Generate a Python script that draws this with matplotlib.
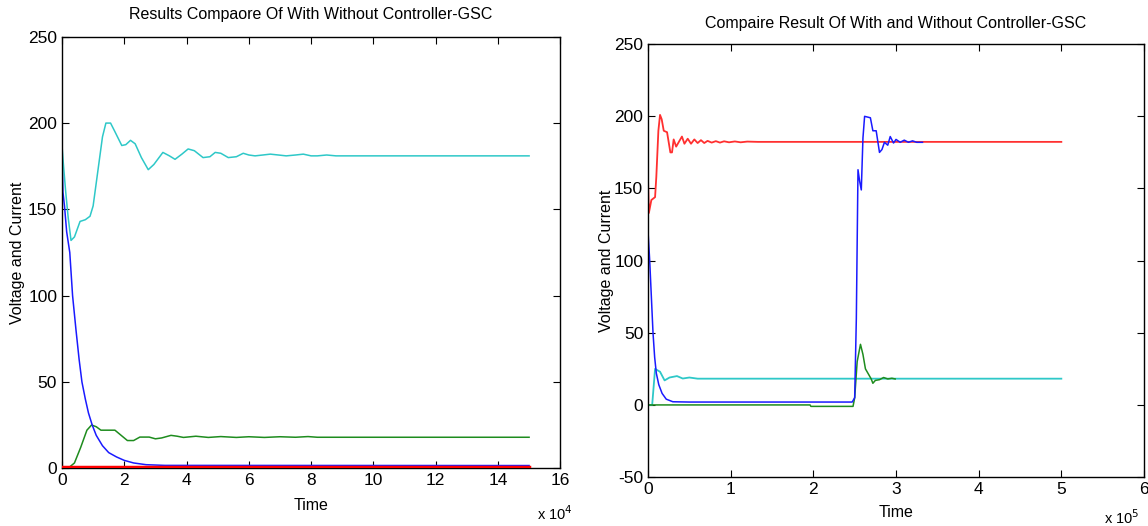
import matplotlib
matplotlib.use("Agg")
from matplotlib import pyplot as plt

plt.rcParams['font.family'] = ['Liberation Sans', 'DejaVu Sans']
plt.rcParams['axes.unicode_minus'] = False

# ---- left chart: without controller (time in units of 1e4) ----
l_cyan_t = [0, 0.05, 0.12, 0.2, 0.29, 0.4, 0.58, 0.75, 0.9, 1.0, 1.15, 1.3, 1.41, 1.56, 1.7, 1.92, 2.05, 2.2, 2.35, 2.55, 2.77, 2.95, 3.24, 3.45, 3.63, 3.85, 4.05, 4.25, 4.53, 4.75, 4.92, 5.1, 5.34, 5.6, 5.82, 6.0, 6.2, 6.45, 6.69, 6.95, 7.2, 7.5, 7.75, 8.0, 8.2, 8.5, 8.8, 9.0, 15]
l_cyan_v = [187, 175, 160, 145, 132, 134, 143, 144, 146, 152, 172, 192, 200, 200, 195, 187, 187.5, 190, 188, 180, 173, 176, 183, 181, 179, 182, 185, 184, 180, 180.5, 183, 182.5, 180, 180.5, 182.5, 181.5, 181, 181.5, 182, 181.5, 181, 181.5, 182, 181, 181, 181.5, 181, 181, 181]

l_blue_t = [0, 0.03, 0.08, 0.15, 0.25, 0.34, 0.45, 0.55, 0.64, 0.75, 0.85, 0.97, 1.1, 1.3, 1.5, 1.75, 2.0, 2.3, 2.7, 3.3, 15]
l_blue_v = [186, 160, 152, 137, 125, 100, 80, 63, 50, 40, 32, 25, 19, 13, 9, 6.5, 4.5, 3, 2, 1.6, 1.5]

l_green_t = [0, 0.2, 0.4, 0.6, 0.8, 0.95, 1.1, 1.25, 1.7, 1.9, 2.1, 2.3, 2.5, 2.8, 3.0, 3.2, 3.5, 3.7, 3.9, 4.3, 4.7, 5.1, 5.6, 6.0, 6.5, 7.0, 7.5, 7.9, 8.2, 15]
l_green_v = [0, 0, 3, 12, 22, 25, 24, 22, 22, 19, 16, 16, 18, 18, 17, 17.5, 19, 18.5, 17.8, 18.5, 17.8, 18.3, 17.8, 18.2, 17.8, 18.2, 17.9, 18.3, 17.9, 17.9]

l_red_t = [0, 15]
l_red_v = [0.5, 0.5]

# ---- right chart: with controller (time in units of 1e5) ----
r_red_t = [0, 0.01, 0.04, 0.085, 0.1, 0.125, 0.145, 0.165, 0.19, 0.23, 0.25, 0.27, 0.29, 0.31, 0.34, 0.37, 0.41, 0.44, 0.48, 0.52, 0.56, 0.6, 0.64, 0.68, 0.72, 0.77, 0.82, 0.87, 0.92, 0.98, 1.05, 1.12, 1.2, 1.33, 5.0]
r_red_v = [156, 133, 142, 144, 158, 190, 201, 198, 190, 189, 182, 175, 175, 184, 179, 182, 186, 181, 184.5, 181, 184, 181.5, 183.5, 181.5, 183, 181.8, 182.8, 181.8, 182.7, 182, 182.6, 182, 182.5, 182.3, 182.3]

r_blue_t = [0, 0.02, 0.04, 0.06, 0.08, 0.1, 0.13, 0.17, 0.22, 0.3, 0.5, 2.47, 2.5, 2.52, 2.53, 2.54, 2.56, 2.58, 2.6, 2.62, 2.69, 2.72, 2.76, 2.8, 2.83, 2.86, 2.9, 2.93, 2.97, 3.0, 3.05, 3.1, 3.15, 3.2, 3.25, 3.32]
r_blue_v = [120, 100, 75, 50, 33, 22, 14, 8, 4, 2.2, 2, 2, 5, 60, 112, 163, 155, 149, 185, 200, 199, 190, 190, 175, 177, 182, 180, 186, 181.5, 184, 182, 183.5, 182, 183, 182, 182]

r_cyan_t = [0, 0.05, 0.085, 0.145, 0.2, 0.26, 0.35, 0.42, 0.5, 0.6, 5.0]
r_cyan_v = [0, 0, 25, 23, 17, 19, 20, 18.3, 19, 18.2, 18.2]

r_green_t = [0, 1.96, 1.97, 2.48, 2.5, 2.53, 2.57, 2.6, 2.63, 2.67, 2.7, 2.72, 2.75, 2.8, 2.85, 2.9, 2.95, 2.99]
r_green_v = [0, 0, -1, -1, 5, 30, 42, 35, 25, 21, 18, 15, 17, 17.5, 19, 18, 18.5, 18]

c_cyan = '#2ec8c8'
c_blue = '#1a1aff'
c_green = '#1e8c1e'
c_red = '#ff3030'

fig = plt.figure(figsize=(11.48, 5.26), dpi=100)
ax1 = fig.add_axes([0.054, 0.110, 0.434, 0.820])
ax2 = fig.add_axes([0.5645, 0.093, 0.432, 0.823])

ax1.plot(l_green_t, l_green_v, color=c_green, lw=1.1)
ax1.plot(l_blue_t, l_blue_v, color=c_blue, lw=1.1)
ax1.plot(l_cyan_t, l_cyan_v, color=c_cyan, lw=1.1)
ax1.plot(l_red_t, l_red_v, color='red', lw=2.5, zorder=3)
ax1.set_xlim(0, 16)
ax1.set_ylim(0, 250)
ax1.set_xticks(range(0, 17, 2))
ax1.set_yticks(range(0, 251, 50))
ax1.set_title("Results Compaore Of With Without Controller-GSC", fontsize=11.5, pad=13)
ax1.set_xlabel("Time", fontsize=11.5, labelpad=7)
ax1.set_ylabel("Voltage and Current", fontsize=11.5, labelpad=2)
fig.text(0.468, 0.012, r'x 10$^{4}$', fontsize=10.5)

ax2.plot(r_cyan_t, r_cyan_v, color=c_cyan, lw=1.3)
ax2.plot(r_green_t, r_green_v, color=c_green, lw=1.1)
ax2.plot(r_red_t, r_red_v, color=c_red, lw=1.3)
ax2.plot(r_blue_t, r_blue_v, color=c_blue, lw=1.1)
ax2.set_xlim(0, 6)
ax2.set_ylim(-50, 250)
ax2.set_xticks(range(0, 7))
ax2.set_yticks(range(-50, 251, 50))
ax2.set_title("Compaire Result Of With and Without Controller-GSC", fontsize=11.5, pad=12)
ax2.set_xlabel("Time", fontsize=11.5, labelpad=6)
ax2.set_ylabel("Voltage and Current", fontsize=11.5, labelpad=0)
fig.text(0.962, 0.004, r'x 10$^{5}$', fontsize=10.5)

for ax in (ax1, ax2):
    ax.tick_params(direction='in', top=True, right=True, length=5, labelsize=12.5)
    for s in ax.spines.values():
        s.set_linewidth(1.0)

plt.savefig("out.png", dpi=100)
